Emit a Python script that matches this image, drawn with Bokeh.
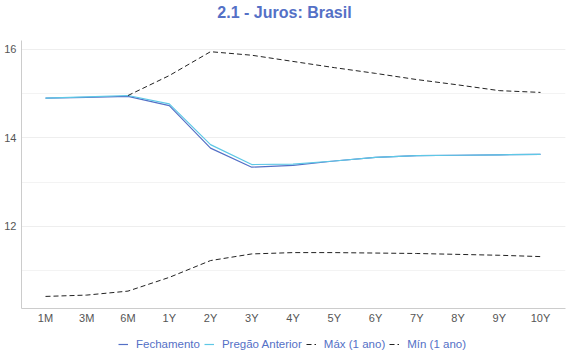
from bokeh.plotting import figure
from bokeh.layouts import column
from bokeh.models import FixedTicker, Legend, LegendItem, Range1d, Label
from bokeh.embed import file_html
from bokeh.resources import INLINE
import numpy as np

tenors = ["1M", "3M", "6M", "1Y", "2Y", "3Y", "4Y", "5Y", "6Y", "7Y", "8Y", "9Y", "10Y"]
fechamento = [14.90, 14.92, 14.94, 14.73, 13.77, 13.34, 13.38, 13.48, 13.56, 13.60, 13.61, 13.62, 13.63]
pregao_anterior = [14.90, 14.93, 14.96, 14.77, 13.85, 13.40, 13.41, 13.48, 13.56, 13.60, 13.61, 13.62, 13.63]
maximo = [np.nan, np.nan, 14.96, 15.41, 15.95, 15.87, 15.73, 15.59, 15.46, 15.32, 15.20, 15.07, 15.03]
minimo = [10.42, 10.45, 10.54, 10.85, 11.23, 11.38, 11.41, 11.41, 11.40, 11.39, 11.37, 11.35, 11.32]
series_names = ["Fechamento", "Pregão Anterior", "Máx (1 ano)", "Mín (1 ano)"]
title_text = "2.1 - Juros: Brasil"

x = np.arange(len(tenors))

FONT = "Liberation Sans"
BLUE = "#5470c6"
CYAN = "#5ec8e6"
styles = [
    dict(line_color=BLUE, line_width=1.2),
    dict(line_color=CYAN, line_width=1.2),
    dict(line_color="#222222", line_width=1, line_dash="5 3"),
    dict(line_color="#222222", line_width=1, line_dash="5 3"),
]


def blank_strip(height):
    f = figure(width=570, height=height, output_backend="svg", toolbar_location=None,
               x_range=Range1d(0, 1), y_range=Range1d(0, 1),
               min_border_left=0, min_border_right=0, min_border_top=0, min_border_bottom=0)
    f.outline_line_color = None
    f.axis.visible = False
    f.grid.grid_line_color = None
    return f


# title strip
p0 = blank_strip(26)
p0.add_layout(Label(x=263, y=14, x_units="screen", y_units="screen", text=title_text,
                    text_align="center", text_baseline="middle", text_font=FONT,
                    text_font_size="16px", text_font_style="bold", text_color=BLUE))

# main chart
p = figure(width=570, height=308, output_backend="svg", toolbar_location=None,
           x_range=Range1d(-0.582, 12.606), y_range=Range1d(10.147, 16.203),
           min_border_left=21, min_border_right=5, min_border_top=14, min_border_bottom=26)
p.outline_line_color = None
p.background_fill_color = "white"

for ys, st in zip([fechamento, pregao_anterior, maximo, minimo], styles):
    p.line(x, np.array(ys), **st)

p.xaxis.ticker = FixedTicker(ticks=list(range(len(tenors))))
p.xaxis.major_label_overrides = {i: t for i, t in enumerate(tenors)}
p.yaxis.ticker = FixedTicker(ticks=[12, 14, 16], minor_ticks=[11, 12, 13, 14, 15, 16])
for ax in (p.xaxis[0], p.yaxis[0]):
    ax.axis_line_color = "#cccccc"
    ax.major_tick_line_color = None
    ax.minor_tick_line_color = None
    ax.major_tick_out = 0
    ax.major_tick_in = 0
    ax.minor_tick_out = 0
    ax.minor_tick_in = 0
    ax.major_label_text_font = FONT
    ax.major_label_text_font_size = "11px"
    ax.major_label_text_color = "#555555"
p.xaxis.major_label_standoff = 3
p.yaxis.major_label_standoff = 5

p.xgrid.grid_line_color = None
p.ygrid.grid_line_color = "#eeeeee"
p.ygrid.minor_grid_line_color = "#f3f3f3"

# legend strip
p2 = blank_strip(20)
items = []
for name, st in zip(series_names, styles):
    r = p2.line([5, 6], [5, 5], **st)  # outside the visible range: legend keys only
    items.append(LegendItem(label=name, renderers=[r]))

legend = Legend(items=items, orientation="horizontal", location=(97, 4))
legend.label_text_font = FONT
legend.label_text_font_size = "11.5px"
legend.label_text_color = BLUE
legend.glyph_width = 10
legend.glyph_height = 10
legend.label_standoff = 8
legend.spacing = 4
legend.padding = 2
legend.margin = 0
legend.border_line_color = None
legend.background_fill_alpha = 0
p2.add_layout(legend, "center")

layout = column(p0, p, p2, spacing=0)
open("out.html", "w").write(file_html(layout, INLINE))
